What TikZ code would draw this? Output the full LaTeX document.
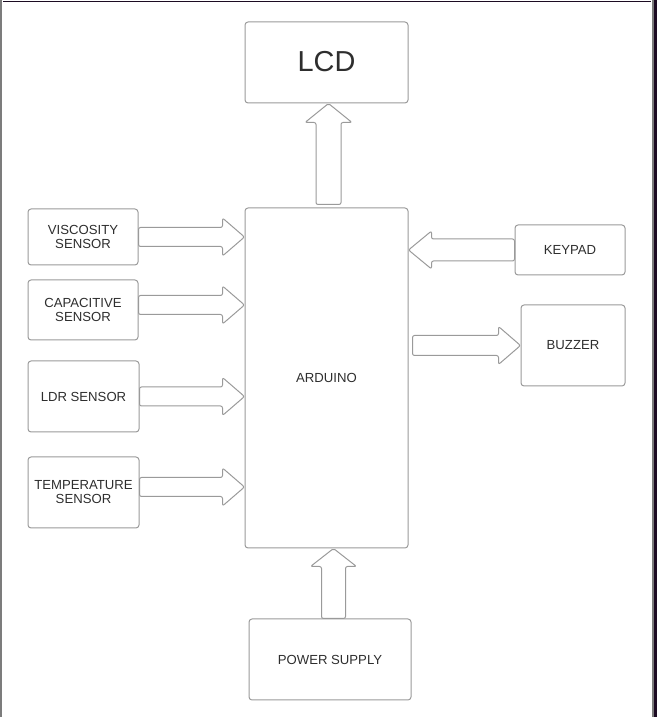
\documentclass[tikz,border=0pt]{standalone}
\usepackage{fontspec}
\setmainfont{Liberation Sans}
\usepackage{tikz}
\usetikzlibrary{calc}
\definecolor{boxgray}{HTML}{9A9A9A}
\definecolor{textgray}{HTML}{2E2E2E}
\definecolor{edgegray}{HTML}{7C7C7C}
\definecolor{edgedark}{HTML}{1C0B22}

\begin{document}
\begin{tikzpicture}[line join=round,
  box/.style={draw=boxgray,line width=1bp,rounded corners=3bp,inner sep=0pt,
    align=center,text=textgray,font=\fontsize{13.2}{14}\selectfont},
  blk/.style n args={3}{draw=boxgray,line width=1bp,rounded corners=2bp,
    to path={($(\tikztostart)!#1!90:(\tikztotarget)$)
      -- ($(\tikztotarget)!#3!(\tikztostart)!#1!90:(\tikztotarget)$)
      -- ($(\tikztotarget)!#3!(\tikztostart)!#2!90:(\tikztotarget)$)
      -- (\tikztotarget)
      -- ($(\tikztotarget)!#3!(\tikztostart)!#2!-90:(\tikztotarget)$)
      -- ($(\tikztotarget)!#3!(\tikztostart)!#1!-90:(\tikztotarget)$)
      -- ($(\tikztostart)!#1!-90:(\tikztotarget)$) -- cycle}},
]
\useasboundingbox (0bp,0bp) rectangle (657bp,717bp);
%% frame
\fill [edgegray] (0bp,0bp) rectangle (2bp,717bp);
\fill [edgegray] (652bp,0bp) rectangle (654bp,717bp);
\fill [edgedark] (654bp,0bp) rectangle (657bp,717bp);
\fill [edgedark] (3bp,714.5bp) rectangle (651bp,716bp);
%%
\node (lcd) at (326.5bp,654.5bp) [box,minimum width=163bp,minimum height=81bp,font=\fontsize{29}{32}\selectfont] {\raisebox{2.5bp}{LCD}};
  \node (ard) at (326.5bp,339bp) [box,minimum width=163bp,minimum height=340bp] {ARDUINO};
  \node (visc) at (83bp,480bp) [box,minimum width=110bp,minimum height=56bp] {VISCOSITY\\SENSOR};
  \node (cap) at (83bp,407bp) [box,minimum width=110bp,minimum height=60bp] {CAPACITIVE\\SENSOR};
  \node (ldr) at (83.5bp,320.5bp) [box,minimum width=111bp,minimum height=71bp] {LDR SENSOR};
  \node (temp) at (83.5bp,224.5bp) [box,minimum width=111bp,minimum height=71bp] {TEMPERATURE\\SENSOR};
  \node (key) at (570bp,467bp) [box,minimum width=110bp,minimum height=50bp] {KEYPAD};
  \node (buz) at (573bp,371.5bp) [box,minimum width=104bp,minimum height=81bp] {BUZZER};
  \node (pwr) at (330bp,57.5bp) [box,minimum width=162bp,minimum height=81bp] {POWER SUPPLY};
  \draw [blk={9.5bp}{19bp}{22bp}] (visc.east) to (ard.west |- visc.east);
  \draw [blk={9.5bp}{19bp}{22bp}] ($(cap.east)+(0bp,5bp)$) to ($(ard.west |- cap.east)+(0bp,5bp)$);
  \draw [blk={9.5bp}{19bp}{22bp}] (ldr.east) to (ard.west |- ldr.east);
  \draw [blk={9.5bp}{19bp}{22bp}] ($(temp.east)+(0bp,5.5bp)$) to ($(ard.west |- temp.east)+(0bp,5.5bp)$);
  \draw [blk={11bp}{19bp}{23bp}] (key.west) to (ard.east |- key.west);
  \draw [blk={10bp}{19bp}{22bp}] ($(ard.east |- buz.west)+(4bp,0bp)$) to (buz.west);
  \draw [blk={12.5bp}{23.5bp}{19bp}] ($(ard.north)+(2bp,3bp)$) to ($(lcd.south)+(2bp,0bp)$);
  \draw [blk={12bp}{23bp}{18bp}] ($(pwr.north)+(3.5bp,0bp)$) to ($(pwr.north |- ard.south)+(3.5bp,0bp)$);
%
\end{tikzpicture}
\end{document}
